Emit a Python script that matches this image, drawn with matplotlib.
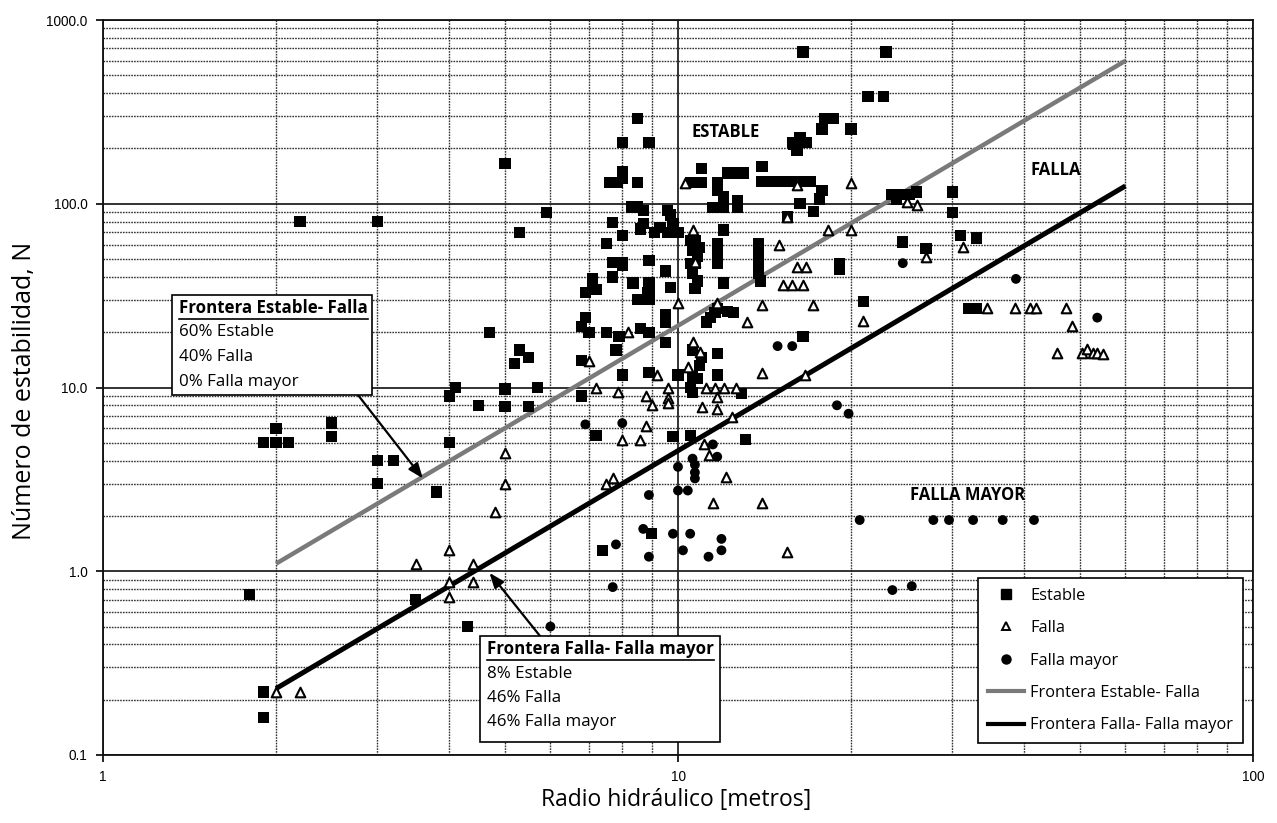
import matplotlib
matplotlib.use("Agg")
import matplotlib.pyplot as plt
from matplotlib.lines import Line2D
from matplotlib.patches import Rectangle
from matplotlib.ticker import FixedLocator, FixedFormatter, LogLocator, NullFormatter

# ---- data: hydraulic radius (m) and stability number N ----
estable_x = [1.8, 1.9, 1.9, 1.9, 2.0, 2.1, 2.0, 2.2, 3.0, 2.5, 2.5, 3.0, 3.2, 3.0, 3.8, 3.5, 4.3,
             4.0, 4.0, 4.1, 4.5, 5.0, 5.0, 5.5, 5.7, 4.7, 5.3, 5.2, 5.5, 5.0, 5.3, 5.9,
             6.8, 6.8, 6.9, 6.9, 6.8, 7.0, 7.1, 7.1, 7.2, 7.5, 7.8, 7.9, 8.6, 8.9, 9.5, 9.5, 9.5,
             8.5, 8.9, 8.9, 11.2, 11.4, 11.6, 11.7, 12.2, 12.5, 11.7, 10.6, 11.0, 10.9, 10.6, 10.8,
             10.5, 10.6, 12.9, 11.7, 8.9, 8.0, 10.0, 7.2, 9.8, 10.5, 13.1, 7.4, 9.0,
             8.5, 8.0, 8.9, 11.0, 14.0, 8.0, 8.0, 7.6, 7.85, 8.5, 10.5, 10.8, 11.0, 12.2, 12.5, 13.0,
             11.7, 11.7, 12.0, 11.5, 12.0, 12.7, 12.7, 14.0, 14.5, 15.0, 15.5, 16.0, 16.5, 17.0,
             15.8, 16.1, 8.3, 8.5, 8.7, 8.7, 8.6, 9.6, 9.7, 9.8, 10.0, 9.3, 9.1, 9.6, 7.7, 8.0, 7.5,
             7.7, 8.0, 8.0, 8.9, 9.5, 7.7, 8.35, 8.9, 8.85, 9.7, 12.0, 10.5, 10.7, 10.6, 10.9, 10.5,
             10.7, 10.8, 10.6, 10.8, 10.7, 11.7, 11.7, 11.7, 12.0, 13.8, 13.8, 13.8, 13.8, 13.9,
             16.5, 23.0, 21.4, 22.8, 18.0, 18.6, 17.8, 20.0, 16.3, 15.9, 16.7, 16.1, 17.8, 17.6,
             16.3, 17.2, 15.5, 23.5, 24.5, 25.3, 24.0, 26.0, 30.0, 30.0, 24.6, 27.0, 31.0, 33.0,
             19.1, 19.1, 21.0, 32.0, 33.0, 16.5]
estable_y = [0.75, 0.22, 0.16, 5.0, 5.0, 5.0, 6.0, 80, 80, 6.4, 5.4, 4.0, 4.0, 3.0, 2.7, 0.7, 0.5,
             5.0, 9.0, 10, 8.0, 9.8, 7.9, 7.9, 10, 20, 16, 13.5, 14.5, 165, 70, 90,
             14, 9.0, 33, 24, 21.5, 20, 39, 36, 34, 20, 16, 19, 21, 20, 25, 22.5, 17.6,
             30, 30, 33, 22.7, 24, 25.7, 27, 26, 25.7, 15.3, 16, 14.6, 13.2, 11.4, 11.2,
             10, 9.4, 9.3, 11.7, 12.1, 11.7, 11.7, 5.5, 5.4, 5.5, 5.2, 1.3, 1.6,
             290, 215, 215, 155, 160, 150, 138, 130, 130, 130, 130, 130, 130, 147, 147, 147,
             130, 119, 109, 95, 95, 104, 95, 132, 132, 132, 132, 132, 132, 132,
             215, 200, 96, 96, 92, 78, 73, 92, 87, 78, 70, 74, 70, 70, 79, 67, 61,
             48, 48, 46, 49, 43, 40, 37, 37, 33, 35, 37, 63, 63, 56, 58, 47.5,
             47.5, 52, 42, 38, 34.7, 61, 54, 47.5, 72, 61, 54, 47.5, 42, 38,
             670, 670, 385, 385, 290, 290, 255, 255, 230, 210, 215, 195, 118, 106,
             100, 91, 85, 112, 112, 112, 105, 116, 116, 90, 62, 57, 67, 65,
             47, 44, 29.5, 27, 27, 19]

falla_x = [2.0, 2.2, 3.5, 4.0, 4.0, 4.0, 4.4, 4.4, 5.0, 4.8, 5.0, 7.0, 7.2,
           10.3, 10.6, 10.7, 15.5, 15.0, 15.2, 15.8, 16.1,
           10.0, 11.7, 14.0, 13.2, 8.2, 10.6, 10.9, 9.2, 10.4, 14.0, 7.85, 8.8, 9.6, 9.6, 9.6,
           11.2, 11.6, 12.0, 12.6, 11.7, 9.0, 11.0, 11.7, 8.8, 8.0, 8.6, 12.4, 11.1, 11.3, 12.1,
           7.5, 7.7, 11.5, 14.0, 15.5,
           16.1, 20.0, 25.0, 26.0, 18.2, 20.0, 31.3, 27.0, 16.7, 16.5, 17.2, 21.0, 34.5, 38.5,
           41.0, 42.0, 45.6, 16.6, 47.3, 48.4, 50.4, 51.5, 52.6, 53.6, 54.8]
falla_y = [0.22, 0.22, 1.1, 1.3, 0.87, 0.72, 1.1, 0.87, 3.0, 2.1, 4.4, 14, 10,
           130, 72, 48, 85, 60, 36, 36, 45,
           29, 29, 28, 22.7, 20, 17.6, 15.6, 11.7, 13, 12, 9.4, 9.0, 10, 8.8, 8.2,
           10, 10, 10, 10, 8.9, 8.0, 7.8, 7.6, 6.2, 5.2, 5.2, 6.9, 4.9, 4.3, 3.25,
           3.0, 3.2, 2.35, 2.35, 1.28,
           126, 130, 102, 99, 72, 72, 58, 51, 45.5, 36, 28, 23, 27, 27,
           27, 27, 15.5, 11.7, 27, 21.6, 15.5, 16.2, 15.5, 15.5, 15.3]

mayor_x = [6.0, 14.9, 15.8, 6.9, 8.0, 11.5, 11.7, 10.0, 10.6, 10.7, 10.7, 10.7, 8.9, 10.0, 10.4,
           8.7, 9.8, 10.5, 7.8, 8.9, 10.2, 11.3, 11.9, 11.9, 7.7, 24.6, 38.7, 18.9, 19.8,
           20.7, 27.8, 29.6, 32.6, 36.7, 41.6, 23.6, 25.5, 53.6]
mayor_y = [0.5, 16.8, 16.8, 6.3, 6.4, 4.9, 4.2, 3.7, 4.1, 3.8, 3.45, 3.2, 2.6, 2.75, 2.75,
           1.7, 1.6, 1.6, 1.4, 1.2, 1.3, 1.2, 1.5, 1.3, 0.82, 47.5, 39, 8.0, 7.2,
           1.9, 1.9, 1.9, 1.9, 1.9, 1.9, 0.79, 0.83, 24]

# boundary lines (end points)
front1_x = [2.0, 60.0]
front1_y = [1.1, 600.0]
front2_x = [2.0, 60.0]
front2_y = [0.23, 125.0]

ytick_vals = [0.1, 1, 10, 100, 1000]
ytick_labels = ["0.1", "1.0", "10.0", "100.0", "1000.0"]
xtick_vals = [1, 10, 100]
xtick_labels = ["1", "10", "100"]

W, H = 1277, 823
fig = plt.figure(figsize=(W / 100, H / 100), dpi=100)
ax = fig.add_axes([103 / W, 1 - 755 / H, (1253 - 103) / W, (755 - 20) / H])
ax.set_xscale("log")
ax.set_yscale("log")
ax.set_xlim(1, 100)
ax.set_ylim(0.1, 1000)

# grid
ax.xaxis.set_minor_locator(LogLocator(base=10, subs=range(2, 10)))
ax.yaxis.set_minor_locator(LogLocator(base=10, subs=range(2, 10)))
ax.xaxis.set_minor_formatter(NullFormatter())
ax.yaxis.set_minor_formatter(NullFormatter())
ax.grid(True, which="major", color="#222222", lw=1.3, ls="-")
ax.grid(True, which="minor", color="#333333", lw=1.0, ls=(0, (1.2, 0.8)))
ax.set_axisbelow(True)

ax.xaxis.set_major_locator(FixedLocator(xtick_vals))
ax.xaxis.set_major_formatter(FixedFormatter(xtick_labels))
ax.yaxis.set_major_locator(FixedLocator(ytick_vals))
ax.yaxis.set_major_formatter(FixedFormatter(ytick_labels))
ax.tick_params(which="minor", length=0)
ax.tick_params(which="major", length=5, width=1.2, labelsize=9.8, pad=6)
for lab in ax.get_xticklabels() + ax.get_yticklabels():
    lab.set_fontfamily("Liberation Sans")
for sp in ax.spines.values():
    sp.set_linewidth(1.3)
    sp.set_color("#111111")

# boundaries
ax.plot(front1_x, front1_y, color="#7a7a7a", lw=3.2, solid_capstyle="butt", zorder=3)
ax.plot(front2_x, front2_y, color="black", lw=3.6, solid_capstyle="butt", zorder=3)

# points
ax.scatter(estable_x, estable_y, marker="s", s=66, c="black", edgecolors="none", zorder=4)
ax.scatter(falla_x, falla_y, marker="^", s=48, facecolors="white", edgecolors="black",
           linewidths=1.5, zorder=5)
ax.scatter(mayor_x, mayor_y, marker="o", s=50, c="black", edgecolors="none", zorder=5)

# region labels
lab_kw = dict(fontfamily="Open Sans", fontweight="bold", fontsize=12, color="black", zorder=6)
ax.text(12.1, 245, "ESTABLE", ha="center", va="center", **lab_kw)
ax.text(45.3, 152, "FALLA", ha="center", va="center", **lab_kw)
ax.text(31.9, 2.6, "FALLA MAYOR", ha="center", va="center", **lab_kw)

# annotation boxes
def fx(px):
    return px / W

def fy(py):
    return 1 - py / H

def note_box(x0, y0, x1, y1, lines, tip, start):
    fig.add_artist(Rectangle((fx(x0), fy(y1)), fx(x1) - fx(x0), fy(y0) - fy(y1),
                             transform=fig.transFigure, facecolor="white",
                             edgecolor="black", lw=1.2, zorder=10))
    yy = y0 + 13
    for i, t in enumerate(lines):
        fig.text(fx(x0 + 7), fy(yy), t, ha="left", va="center", fontsize=12.2,
                 fontfamily="Open Sans", fontweight="bold" if i == 0 else "normal", zorder=11)
        if i == 0:
            tt = fig.texts[-1]
            fig.canvas.draw()
            bb = tt.get_window_extent()
            fig.add_artist(Line2D([bb.x0 / W, bb.x1 / W], [fy(yy + 10.5)] * 2,
                                  transform=fig.transFigure, color="black", lw=1.2, zorder=11))
        yy += 24.5
    ax.annotate("", xy=tip, xycoords="data", xytext=(fx(start[0]), fy(start[1])),
                textcoords="figure fraction",
                arrowprops=dict(arrowstyle="-|>,head_length=0.9,head_width=0.35",
                                color="black", lw=1.6, shrinkA=0, shrinkB=0), zorder=9)

note_box(172, 295, 372, 395,
         ["Frontera Estable- Falla", "60% Estable", "40% Falla", "0% Falla mayor"],
         (3.6, 3.2), (358, 395))
note_box(480, 636, 720, 742,
         ["Frontera Falla- Falla mayor", "8% Estable", "46% Falla", "46% Falla mayor"],
         (4.7, 0.98), (540, 636))

# legend
handles = [
    Line2D([], [], ls="none", marker="s", ms=7, color="black"),
    Line2D([], [], ls="none", marker="^", ms=6, mfc="white", mec="black", mew=1.4),
    Line2D([], [], ls="none", marker="o", ms=6.5, color="black"),
    Line2D([], [], color="#7a7a7a", lw=3),
    Line2D([], [], color="black", lw=3),
]
labels = ["Estable", "Falla", "Falla mayor", "Frontera Estable- Falla", "Frontera Falla- Falla mayor"]
leg = ax.legend(handles, labels, loc="upper left",
                bbox_to_anchor=(fx(978), fy(578)),
                bbox_transform=fig.transFigure, frameon=True, fancybox=False,
                edgecolor="black", framealpha=1, prop={"family": "Open Sans", "size": 11.8},
                labelspacing=1.0, handlelength=2.2, handletextpad=0.4,
                borderpad=0.6, borderaxespad=0)
leg.get_frame().set_linewidth(1.2)
leg.set_zorder(12)

fig.text(676 / W, fy(800), "Radio hidráulico [metros]", ha="center", va="center",
         fontsize=16.5, fontfamily="Open Sans")
fig.text(25 / W, fy(391), "Número de estabilidad, N", ha="center", va="center",
         rotation=90, fontsize=18, fontfamily="Open Sans")

fig.savefig("out.png", dpi=100, facecolor="white")
